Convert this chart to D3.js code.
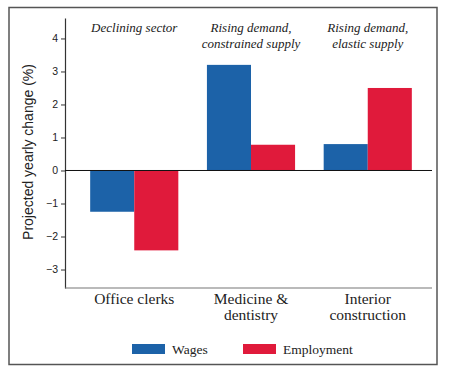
<!DOCTYPE html>
<html>
<head>
<meta charset="utf-8">
<script src="https://cdn.jsdelivr.net/npm/d3@7"></script>
<style>
  html, body { margin: 0; padding: 0; background: #fff; }
</style>
</head>
<body>
<div id="chart"></div>
<script>
// ---- Data ----
const categories = [["Office clerks"], ["Medicine &", "dentistry"], ["Interior", "construction"]];
const annotations = [["Declining sector"], ["Rising demand,", "constrained supply"], ["Rising demand,", "elastic supply"]];
const series = ["Wages", "Employment"];
const wages = [-1.25, 3.2, 0.8];
const employment = [-2.42, 0.78, 2.5];
const yTicks = [-3, -2, -1, 0, 1, 2, 3, 4];
const colors = ["#1c62a8", "#e01a3b"];

const W = 453, H = 372;
const serif = "'Liberation Serif', 'DejaVu Serif', serif";
const sans = "'Liberation Sans', Arial, sans-serif";

const svg = d3.select("#chart").append("svg")
  .attr("width", W).attr("height", H);

// outer frame
svg.append("rect")
  .attr("x", 9).attr("y", 7.5)
  .attr("width", 428).attr("height", 357)
  .attr("fill", "#fff")
  .attr("stroke", "#555").attr("stroke-width", 1.5);

// ---- Scales ----
const y = d3.scaleLinear().domain([-3.56, 4.62]).range([288, 18]);

const x = d3.scaleBand()
  .domain(d3.range(categories.length))
  .range([75, 427])
  .paddingInner(0.245)
  .paddingOuter(0.13);

const xs = d3.scaleBand().domain(series).range([0, x.bandwidth()]);

const rows = categories.map((c, i) => ({ i, values: [wages[i], employment[i]] }));

// ---- Bars ----
const groups = svg.selectAll(".grp").data(rows).join("g")
  .attr("transform", d => `translate(${x(d.i)},0)`);

groups.selectAll("rect")
  .data(d => d.values.map((v, k) => ({ v, k })))
  .join("rect")
  .attr("x", d => xs(series[d.k]))
  .attr("width", xs.bandwidth())
  .attr("y", d => y(Math.max(0, d.v)))
  .attr("height", d => Math.abs(y(d.v) - y(0)))
  .attr("fill", d => colors[d.k]);

// ---- Axes ----
const yAxis = svg.append("g")
  .attr("transform", "translate(65,0)")
  .call(d3.axisLeft(y).tickValues(yTicks).tickSize(4).tickSizeOuter(0).tickFormat(d3.format("d")));
yAxis.select(".domain").attr("stroke", "#333").attr("stroke-width", 1.2);
yAxis.selectAll(".tick line").attr("stroke", "#333");
yAxis.selectAll(".tick text")
  .attr("font-family", sans).attr("font-size", 10.5).attr("fill", "#222").attr("x", -7);

// bottom axis line
svg.append("line")
  .attr("x1", 65).attr("x2", 432)
  .attr("y1", 288).attr("y2", 288)
  .attr("stroke", "#777").attr("stroke-width", 1.2);

// zero line
svg.append("line")
  .attr("x1", 65).attr("x2", 432)
  .attr("y1", y(0)).attr("y2", y(0))
  .attr("stroke", "#111").attr("stroke-width", 1);

// category labels
svg.selectAll(".cat").data(categories).join("text")
  .attr("text-anchor", "middle")
  .attr("font-family", serif).attr("font-size", 15.5).attr("fill", "#222")
  .attr("transform", (d, i) => `translate(${x(i) + x.bandwidth() / 2},304)`)
  .each(function(d) {
    d.forEach((line, j) => d3.select(this).append("tspan")
      .attr("x", 0).attr("y", j * 16).text(line));
  });

// annotations
svg.selectAll(".ann").data(annotations).join("text")
  .attr("text-anchor", "middle")
  .attr("font-family", serif).attr("font-style", "italic")
  .attr("font-size", 13).attr("fill", "#222")
  .attr("transform", (d, i) => `translate(${x(i) + x.bandwidth() / 2},32)`)
  .each(function(d) {
    d.forEach((line, j) => d3.select(this).append("tspan")
      .attr("x", 0).attr("y", j * 15.5).text(line));
  });

// y label
svg.append("text")
  .attr("transform", "translate(33,152) rotate(-90)")
  .attr("text-anchor", "middle")
  .attr("font-family", sans).attr("font-size", 14).attr("fill", "#222")
  .text("Projected yearly change (%)");

// ---- Legend ----
const legendX = [132, 243];
const legend = svg.selectAll(".leg").data(series).join("g")
  .attr("transform", (d, i) => `translate(${legendX[i]},344)`);
legend.append("rect")
  .attr("width", 33).attr("height", 10)
  .attr("fill", (d, i) => colors[i]);
legend.append("text")
  .attr("x", 40).attr("y", 10)
  .attr("font-family", serif).attr("font-size", 13.5).attr("fill", "#222")
  .text(d => d);
</script>
</body>
</html>
